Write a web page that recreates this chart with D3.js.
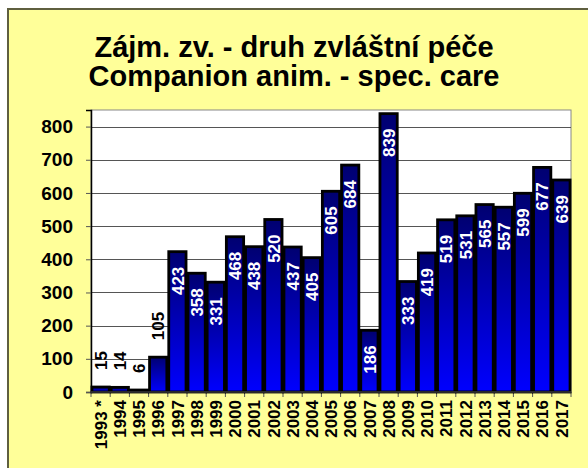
<!DOCTYPE html>
<html>
<head>
<meta charset="utf-8">
<script src="https://cdn.jsdelivr.net/npm/d3@7"></script>
<style>
  body { margin: 0; background: #fff; }
  svg { display: block; font-family: Arial, "Liberation Sans", sans-serif; }
</style>
</head>
<body>
<div id="chart"></div>
<script>
var years = ["1993 *", "1994", "1995", "1996", "1997", "1998", "1999", "2000", "2001", "2002",
  "2003", "2004", "2005", "2006", "2007", "2008", "2009", "2010", "2011", "2012",
  "2013", "2014", "2015", "2016", "2017"];
var counts = [15, 14, 6, 105, 423, 358, 331, 468, 438, 520,
  437, 405, 605, 684, 186, 839, 333, 419, 519, 531,
  565, 557, 599, 677, 639];
var yTicks = [0, 100, 200, 300, 400, 500, 600, 700, 800];
var titleLines = ["Zájm. zv. - druh zvláštní péče", "Companion anim. - spec. care"];

var W = 588, H = 468;
var plot = {left: 91, right: 571, top: 110, bottom: 392};

var svg = d3.select("#chart").append("svg")
  .attr("width", W)
  .attr("height", H);

// chart background with the dark edge on top / left
svg.append("rect")
  .attr("x", 7).attr("y", 8)
  .attr("width", W - 7).attr("height", H - 8)
  .attr("fill", "#ffff99");
svg.append("path")
  .attr("d", "M8," + H + "V9H" + W)
  .attr("fill", "none")
  .attr("stroke", "#5f5f3f")
  .attr("stroke-width", 2);

var grad = svg.append("defs").append("linearGradient")
  .attr("id", "barfill")
  .attr("x1", 0).attr("y1", 0).attr("x2", 0).attr("y2", 1);
grad.append("stop").attr("offset", "0%").attr("stop-color", "#000070");
grad.append("stop").attr("offset", "100%").attr("stop-color", "#0000ff");

// titles
svg.selectAll("text.title")
  .data(titleLines)
  .enter().append("text")
  .attr("class", "title")
  .attr("x", 294)
  .attr("y", function(d, i) { return 57 + i * 29; })
  .attr("text-anchor", "middle")
  .attr("font-size", 29)
  .attr("font-weight", "bold")
  .attr("fill", "#000")
  .text(function(d) { return d; });

var x = d3.scaleBand()
  .domain(years)
  .range([plot.left, plot.right])
  .paddingInner(0.1)
  .paddingOuter(0.05);

var y = d3.scaleLinear()
  .domain([0, 850])
  .range([plot.bottom, plot.top]);

// plot area
svg.append("rect")
  .attr("x", plot.left).attr("y", plot.top)
  .attr("width", plot.right - plot.left)
  .attr("height", plot.bottom - plot.top)
  .attr("fill", "#fff")
  .attr("stroke", "#888")
  .attr("stroke-width", 1);

// gridlines
svg.append("g")
  .selectAll("line")
  .data(yTicks.slice(1))
  .enter().append("line")
  .attr("x1", plot.left).attr("x2", plot.right)
  .attr("y1", function(d) { return Math.round(y(d)) + 0.5; })
  .attr("y2", function(d) { return Math.round(y(d)) + 0.5; })
  .attr("stroke", "#555")
  .attr("stroke-width", 1);

// y axis
var yAxis = svg.append("g")
  .attr("transform", "translate(" + plot.left + ",0)")
  .call(d3.axisLeft(y).tickValues(yTicks).tickSize(5).tickPadding(13));
yAxis.select(".domain").attr("stroke", "#000").attr("stroke-width", 1.5);
yAxis.selectAll(".tick line").attr("stroke", "#555");
yAxis.selectAll("text")
  .attr("font-family", "Arial, 'Liberation Sans', sans-serif")
  .attr("font-size", 19)
  .attr("font-weight", "bold")
  .attr("fill", "#000");

// x axis ticks at category boundaries
svg.append("g")
  .selectAll("line")
  .data(d3.range(years.length + 1))
  .enter().append("line")
  .attr("x1", function(i) { return plot.left + i * (plot.right - plot.left) / years.length; })
  .attr("x2", function(i) { return plot.left + i * (plot.right - plot.left) / years.length; })
  .attr("y1", plot.bottom).attr("y2", plot.bottom + 5)
  .attr("stroke", "#555");

// bars
svg.append("g")
  .selectAll("rect")
  .data(counts)
  .enter().append("rect")
  .attr("x", function(d, i) { return x(years[i]); })
  .attr("y", function(d) { return y(d); })
  .attr("width", x.bandwidth())
  .attr("height", function(d) { return y(0) - y(d); })
  .attr("fill", "url(#barfill)")
  .attr("stroke", "#000")
  .attr("stroke-width", 2.8);

svg.append("line")
  .attr("x1", plot.left).attr("x2", plot.right)
  .attr("y1", plot.bottom).attr("y2", plot.bottom)
  .attr("stroke", "#555").attr("stroke-width", 1);

// value labels
svg.append("g")
  .selectAll("text")
  .data(counts)
  .enter().append("text")
  .attr("transform", function(d, i) {
    var cx = x(years[i]) + x.bandwidth() / 2;
    var ty = d < 150 ? y(d) - 17 : y(d) + 15;
    return "translate(" + cx + "," + ty + ") rotate(-90)";
  })
  .attr("text-anchor", function(d) { return d < 150 ? "start" : "end"; })
  .attr("dy", "0.36em")
  .attr("font-size", 17)
  .attr("font-weight", "bold")
  .attr("fill", function(d) { return d < 150 ? "#000" : "#fff"; })
  .text(function(d) { return d; });

// category labels
svg.append("g")
  .selectAll("text")
  .data(years)
  .enter().append("text")
  .attr("transform", function(d) {
    return "translate(" + (x(d) + x.bandwidth() / 2) + "," + (plot.bottom + 8) + ") rotate(-90)";
  })
  .attr("text-anchor", "end")
  .attr("dy", "0.36em")
  .attr("font-size", 17)
  .attr("font-weight", "bold")
  .attr("fill", "#000")
  .text(function(d) { return d; });
</script>
</body>
</html>
